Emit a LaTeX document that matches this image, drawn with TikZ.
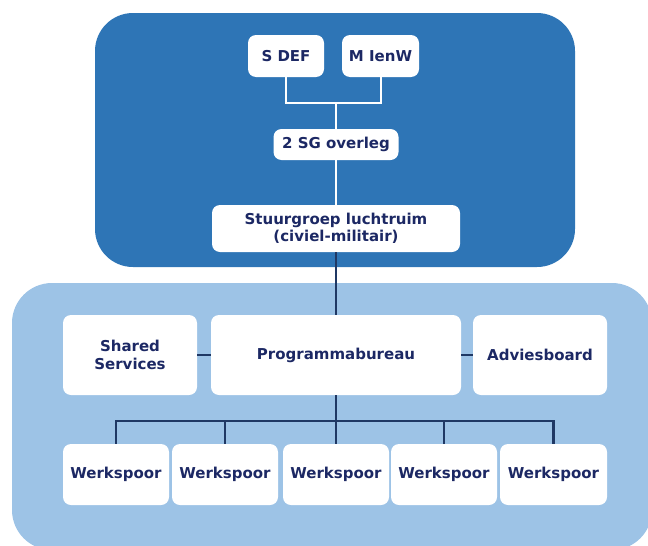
\documentclass[tikz,border=0pt]{standalone}
\usepackage{fontspec}
\setmainfont{DejaVu Sans}
\definecolor{darkpanel}{RGB}{46,117,182}
\definecolor{lightpanel}{RGB}{157,195,230}
\definecolor{navy}{RGB}{28,40,100}
\definecolor{linenavy}{RGB}{31,56,100}
\tikzset{
  box/.style={fill=white, rounded corners=8pt, inner sep=0pt, align=center,
    text=navy, font=\fontsize{15}{17.5}\selectfont\bfseries},
  topline/.style={draw=white, line width=2pt},
  botline/.style={draw=linenavy, line width=2.4pt}
}
\begin{document}
\begin{tikzpicture}[x=1pt,y=-1pt]
\useasboundingbox (0,0) rectangle (648,546);
\begin{scope}
\clip (0,0) rectangle (648,546);
\fill[darkpanel, rounded corners=38pt] (95,13) rectangle (575,267);
\fill[lightpanel, rounded corners=40pt] (12,283) rectangle (652,550);
\end{scope}
% top nodes
\node[box, minimum width=76pt, minimum height=42pt] (sdef) at (286,56) {S DEF};
\node[box, minimum width=77pt, minimum height=42pt] (mienw) at (380.5,56) {M IenW};
\node[box, minimum width=125pt, minimum height=31pt] (sg) at (336,144.5) {2 SG overleg};
\node[box, minimum width=248pt, minimum height=47pt] (stuur) at (336,228.5) {Stuurgroep luchtruim\\(civiel-militair)};
\coordinate (jtop) at (336,103);
\draw[topline] (sdef.south) |- (jtop) -| (mienw.south);
\draw[topline] (jtop) -- (sg.north);
\draw[topline] (sg.south) -- (stuur.north);
% bottom nodes
\node[box, minimum width=134pt, minimum height=80pt] (shared) at (130,355) {Shared\\Services};
\node[box, minimum width=250pt, minimum height=80pt] (prog) at (336,355) {Programmabureau};
\node[box, minimum width=134pt, minimum height=80pt] (advies) at (540,355) {Adviesboard};
\node[box, minimum width=106pt, minimum height=61pt] (w1) at (116,474.5) {Werkspoor};
\node[box, minimum width=106pt, minimum height=61pt] (w2) at (225,474.5) {Werkspoor};
\node[box, minimum width=106pt, minimum height=61pt] (w3) at (336,474.5) {Werkspoor};
\node[box, minimum width=106pt, minimum height=61pt] (w4) at (444,474.5) {Werkspoor};
\node[box, minimum width=107pt, minimum height=61pt] (w5) at (553.5,474.5) {Werkspoor};
\draw[botline] (stuur.south) -- (prog.north);
\draw[botline] (shared.east) -- (prog.west);
\draw[botline] (prog.east) -- (advies.west);
\coordinate (jbot) at (336,421);
\draw[botline] (prog.south) -- (w3.north);
\draw[botline] (w1.north) |- (jbot) -| (w5.north);
\draw[botline] (w2.north) -- (w2.north |- jbot);
\draw[botline] (w4.north) -- (w4.north |- jbot);
\end{tikzpicture}
\end{document}
